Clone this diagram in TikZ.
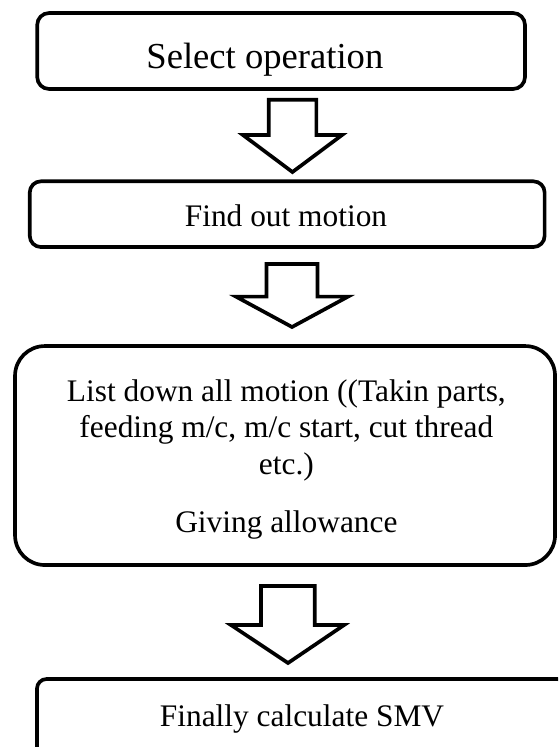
\documentclass[tikz,border=0pt]{standalone}
\usepackage{fontspec}
\setmainfont{Liberation Serif}
\tikzset{
  stepbox/.style={draw=black, line width=1.4pt},
  blockarrow/.style={draw=black, fill=white, line width=1.4pt, line join=miter},
  steptext/.style={font=\fontsize{12}{13.9}\selectfont, inner sep=0pt, anchor=base},
}

\begin{document}
\begin{tikzpicture}
      \useasboundingbox (0,0) rectangle (7.5,-10.04);
      \clip (0,0) rectangle (7.5,-10.04);

      % first step
      \draw[stepbox, rounded corners=1.6mm] (0.50,-0.175) rectangle (7.056,-1.196);
      \node[steptext, font=\fontsize{14}{16}\selectfont] (select) at (3.56,-0.914) {Select operation};

      \draw[blockarrow] (3.612,-1.340) -- (4.252,-1.340) -- (4.252,-1.815) -- (4.597,-1.815)
            -- (3.931,-2.312) -- (3.266,-1.815) -- (3.612,-1.815) -- cycle;

      % second step
      \draw[stepbox, rounded corners=1.5mm] (0.40,-2.437) rectangle (7.32,-3.32);
      \node[steptext] (motion) at (3.844,-3.038) {Find out motion};

      \draw[blockarrow] (3.581,-3.548) -- (4.267,-3.548) -- (4.267,-3.987) -- (4.677,-3.987)
            -- (3.925,-4.395) -- (3.172,-3.987) -- (3.581,-3.987) -- cycle;

      % third step
      \draw[stepbox, rounded corners=4mm] (0.202,-4.651) rectangle (7.46,-7.594);
      \node[steptext, anchor=north, align=center] (listdown) at (3.849,-5.098)
            {List down all motion ((Takin parts,\\ feeding m/c, m/c start, cut thread\\ etc.)\\[8.5pt] Giving allowance};

      \draw[blockarrow] (3.508,-7.876) -- (4.230,-7.876) -- (4.230,-8.401) -- (4.624,-8.401)
            -- (3.871,-8.911) -- (3.105,-8.401) -- (3.508,-8.401) -- cycle;

      % last step, runs off the page
      \draw[stepbox, rounded corners=1.3mm] (0.497,-9.126) rectangle (7.62,-10.19);
      \node[steptext] (smv) at (4.059,-9.758) {Finally calculate SMV};
\end{tikzpicture}
\end{document}
